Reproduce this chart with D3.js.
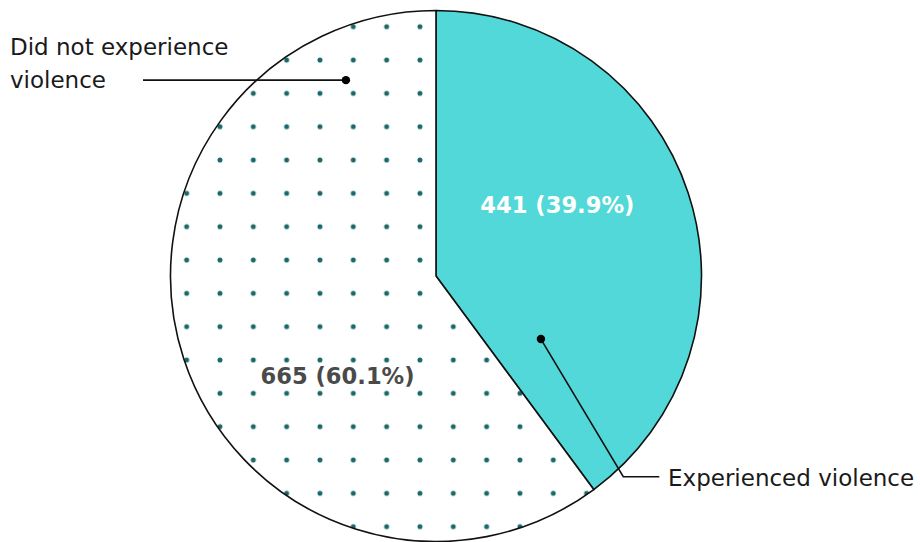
<!doctype html>
<html>
<head>
<script src="https://d3js.org/d3.v7.min.js"></script>
<style>
  body { margin: 0; background: #fff; }
  svg { display: block; font-family: "DejaVu Sans", Inter, sans-serif; }
</style>
</head>
<body>
<script>
var categories = ["Experienced violence", "Did not experience violence"];
var values = [441, 665];
var percents = ["39.9%", "60.1%"];

var width = 920, height = 542;
var cx = 436, cy = 276, radius = 265.5;

var svg = d3.select("body").append("svg")
  .attr("width", width).attr("height", height);

// dot pattern, positioned in the pie group's coordinates
var step = 33.33;
var defs = svg.append("defs");
var pat = defs.append("pattern")
  .attr("id", "dots")
  .attr("patternUnits", "userSpaceOnUse")
  .attr("x", 3.33 - cx).attr("y", 10 - cy)
  .attr("width", step).attr("height", step);
pat.append("rect").attr("width", step).attr("height", step).attr("fill", "#fff");
pat.append("circle").attr("cx", step / 2).attr("cy", step / 2).attr("r", 2.5).attr("fill", "#1a6868");

var g = svg.append("g").attr("transform", "translate(" + cx + "," + cy + ")");

var pie = d3.pie().sort(null).value(function(d){ return d; });
var arcs = pie(values);
var arc = d3.arc().innerRadius(0).outerRadius(radius);

g.selectAll("path.slice").data(arcs).enter().append("path")
  .attr("class", "slice")
  .attr("d", arc)
  .attr("fill", function(d, i){ return i === 0 ? "#52d8d8" : "url(#dots)"; })
  .attr("stroke", "#111")
  .attr("stroke-width", 1.6)
  .attr("stroke-linejoin", "round");

// value labels (angle in degrees from top, radius fraction)
var valuePos = [[59.6, 0.53], [224.4, 0.53]];
var valueColor = ["#ffffff", "#4a4a4a"];
g.selectAll("text.val").data(arcs).enter().append("text")
  .attr("class", "val")
  .attr("x", function(d, i){ return radius * valuePos[i][1] * Math.sin(valuePos[i][0] * Math.PI / 180); })
  .attr("y", function(d, i){ return -radius * valuePos[i][1] * Math.cos(valuePos[i][0] * Math.PI / 180); })
  .attr("dy", "0.35em")
  .attr("text-anchor", "middle")
  .attr("font-size", 22.6)
  .attr("font-weight", 700)
  .attr("fill", function(d, i){ return valueColor[i]; })
  .text(function(d, i){ return d.value + " (" + percents[i] + ")"; });

// leader lines
var leaderPos = [[121, 0.461], [335.3, 0.812]];
function pt(i){
  var a = leaderPos[i][0] * Math.PI / 180, r = radius * leaderPos[i][1];
  return [r * Math.sin(a), -r * Math.cos(a)];
}
var p0 = pt(0), p1 = pt(1);
var lines = [
  [p0, [187.3, 200.7], [223.3, 200.7]],
  [p1, [-293, p1[1]]]
];
g.selectAll("path.leader").data(lines).enter().append("path")
  .attr("class", "leader")
  .attr("d", d3.line())
  .attr("fill", "none")
  .attr("stroke", "#111")
  .attr("stroke-width", 1.6);
g.selectAll("circle.anchor").data([p0, p1]).enter().append("circle")
  .attr("cx", function(d){ return d[0]; })
  .attr("cy", function(d){ return d[1]; })
  .attr("r", 4.2)
  .attr("fill", "#000");

svg.append("text")
  .attr("x", 668).attr("y", 486)
  .attr("font-size", 23).attr("fill", "#1a1a1a")
  .text(categories[0]);

var t = svg.append("text").attr("x", 10).attr("y", 54.5)
  .attr("font-size", 23).attr("fill", "#1a1a1a");
t.append("tspan").attr("x", 10).text("Did not experience");
t.append("tspan").attr("x", 10).attr("dy", 33).text("violence");
</script>
</body>
</html>
